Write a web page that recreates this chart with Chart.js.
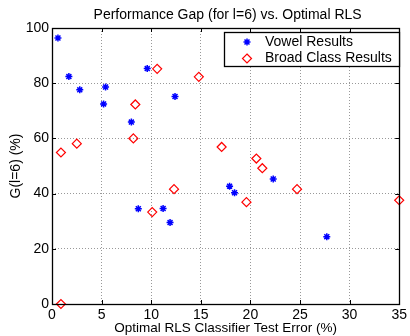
<!DOCTYPE html>
<html>
<head>
<meta charset="utf-8">
<script src="https://cdn.jsdelivr.net/npm/chart.js@4/dist/chart.umd.min.js"></script>
<style>
html,body{margin:0;padding:0;background:#fff;}
#wrap{width:410px;height:336px;}
</style>
</head>
<body>
<div id="wrap"><canvas id="chart" width="410" height="336"></canvas></div>
<script>
const FONT = "'Liberation Sans', Arial, sans-serif";

const titleText = "Performance Gap (for l=6) vs. Optimal RLS";
const xTitle = "Optimal RLS Classifier Test Error (%)";
const yTitle = "G(l=6) (%)";
const seriesNames = ["Vowel Results", "Broad Class Results"];

const vowelX = [0.6, 1.7, 2.8, 5.4, 5.2, 9.6, 12.4, 8.0, 8.7, 11.2, 11.9, 17.9, 18.4, 22.3, 27.7];
const vowelY = [96.4, 82.4, 77.6, 78.6, 72.5, 85.3, 75.2, 65.9, 34.5, 34.6, 29.5, 42.7, 40.3, 45.3, 24.4];

const broadX = [10.6, 14.8, 8.4, 0.9, 2.5, 8.2, 17.1, 20.6, 21.2, 24.7, 19.6, 12.3, 10.1, 35.0, 0.9];
const broadY = [85.2, 82.3, 72.3, 54.9, 58.1, 60.0, 56.9, 52.7, 49.2, 41.6, 36.9, 41.6, 33.3, 37.6, 0];

const xTicks = [0, 5, 10, 15, 20, 25, 30, 35];
const yTicks = [0, 20, 40, 60, 80, 100];

function pts(xs, ys){
  return xs.map((x,i)=>({x:x, y:ys[i]}));
}

// matlab style: title over the axes, box all round, small inward ticks, legend inside top right
const boxPlugin = {
  id:"box",
  afterDraw(chart){
    const ctx = chart.ctx;
    const a = chart.chartArea;
    const xs = chart.scales.x, ys = chart.scales.y;
    ctx.save();

    ctx.fillStyle = "#000";
    ctx.font = "14px " + FONT;
    ctx.textAlign = "center";
    ctx.textBaseline = "alphabetic";
    ctx.fillText(titleText, (a.left + a.right)/2 + 2, 19);

    ctx.strokeStyle = "#000";
    ctx.lineWidth = 1;
    ctx.beginPath();
    xTicks.forEach(v=>{
      const px = Math.round(xs.getPixelForValue(v)) + 0.5;
      ctx.moveTo(px, a.bottom); ctx.lineTo(px, a.bottom - 4);
      ctx.moveTo(px, a.top); ctx.lineTo(px, a.top + 4);
    });
    yTicks.forEach(v=>{
      const py = Math.round(ys.getPixelForValue(v)) + 0.5;
      ctx.moveTo(a.left, py); ctx.lineTo(a.left + 4, py);
      ctx.moveTo(a.right, py); ctx.lineTo(a.right - 4, py);
    });
    ctx.stroke();
    ctx.lineWidth = 1.3;
    ctx.strokeRect(Math.round(a.left)+0.5, Math.round(a.top)+0.5, Math.round(a.right-a.left), Math.round(a.bottom-a.top));

    // legend
    const lx = 224, ly = 32, lw = 175, lh = 34;
    ctx.fillStyle = "#fff";
    ctx.fillRect(lx, ly, lw, lh);
    ctx.lineWidth = 1.3;
    ctx.strokeRect(lx+0.5, ly+0.5, lw, lh);

    // star
    const sx = 247, sy = 42, r = 3.5;
    ctx.strokeStyle = "#0000ff";
    ctx.lineWidth = 1.5;
    ctx.beginPath();
    ctx.moveTo(sx-r, sy); ctx.lineTo(sx+r, sy);
    ctx.moveTo(sx, sy-r); ctx.lineTo(sx, sy+r);
    const d = r*0.707;
    ctx.moveTo(sx-d, sy-d); ctx.lineTo(sx+d, sy+d);
    ctx.moveTo(sx-d, sy+d); ctx.lineTo(sx+d, sy-d);
    ctx.stroke();

    // diamond
    const dx = 247, dy = 58.5, dr = 4.5;
    ctx.strokeStyle = "#ff0000";
    ctx.lineWidth = 1.2;
    ctx.beginPath();
    ctx.moveTo(dx, dy-dr); ctx.lineTo(dx+dr, dy); ctx.lineTo(dx, dy+dr); ctx.lineTo(dx-dr, dy); ctx.closePath();
    ctx.stroke();

    ctx.fillStyle = "#000";
    ctx.font = "14px " + FONT;
    ctx.textBaseline = "middle";
    ctx.textAlign = "left";
    ctx.fillText(seriesNames[0], 265, 42.5);
    ctx.fillText(seriesNames[1], 265, 58.5);
    ctx.restore();
  }
};

const gridOpts = {
  color: "rgba(0,0,0,0.4)",
  lineWidth: 1,
  drawTicks: false
};

new Chart(document.getElementById("chart"), {
  type:"scatter",
  data:{
    datasets:[
      {
        label: seriesNames[0],
        data: pts(vowelX, vowelY),
        pointStyle:"star",
        pointRadius:3.5,
        borderColor:"#0000ff",
        backgroundColor:"#0000ff",
        borderWidth:1.5,
        clip:false
      },
      {
        label: seriesNames[1],
        data: pts(broadX, broadY),
        pointStyle:"rectRot",
        pointRadius:4.5,
        borderColor:"#ff0000",
        backgroundColor:"rgba(0,0,0,0)",
        borderWidth:1.2,
        clip:false
      }
    ]
  },
  options:{
    responsive:false,
    animation:false,
    events:[],
    layout:{padding:{left:0, right:9, top:28, bottom:0}},
    plugins:{
      legend:{display:false},
      tooltip:{enabled:false},
      title:{display:false}
    },
    scales:{
      x:{
        type:"linear",
        min:0, max:35,
        afterFit(s){ s.height = 32; },
        afterBuildTicks(s){ s.ticks = xTicks.map(v=>({value:v})); },
        grid:{...gridOpts},
        border:{display:false, dash:[1,2]},
        ticks:{color:"#000", padding:3, maxRotation:0, font:{family:FONT, size:14}},
        title:{display:true, text:xTitle, color:"#000", padding:{top:0, bottom:0}, font:{family:FONT, size:13.5}}
      },
      y:{
        type:"linear",
        min:0, max:100,
        afterFit(s){ s.width = 52; },
        afterBuildTicks(s){ s.ticks = yTicks.map(v=>({value:v})); },
        grid:{...gridOpts},
        border:{display:false, dash:[1,2]},
        ticks:{color:"#000", padding:3, font:{family:FONT, size:14}},
        title:{display:true, text:yTitle, color:"#000", padding:{top:8, bottom:0}, font:{family:FONT, size:14}}
      }
    }
  },
  plugins:[boxPlugin]
});
</script>
</body>
</html>
